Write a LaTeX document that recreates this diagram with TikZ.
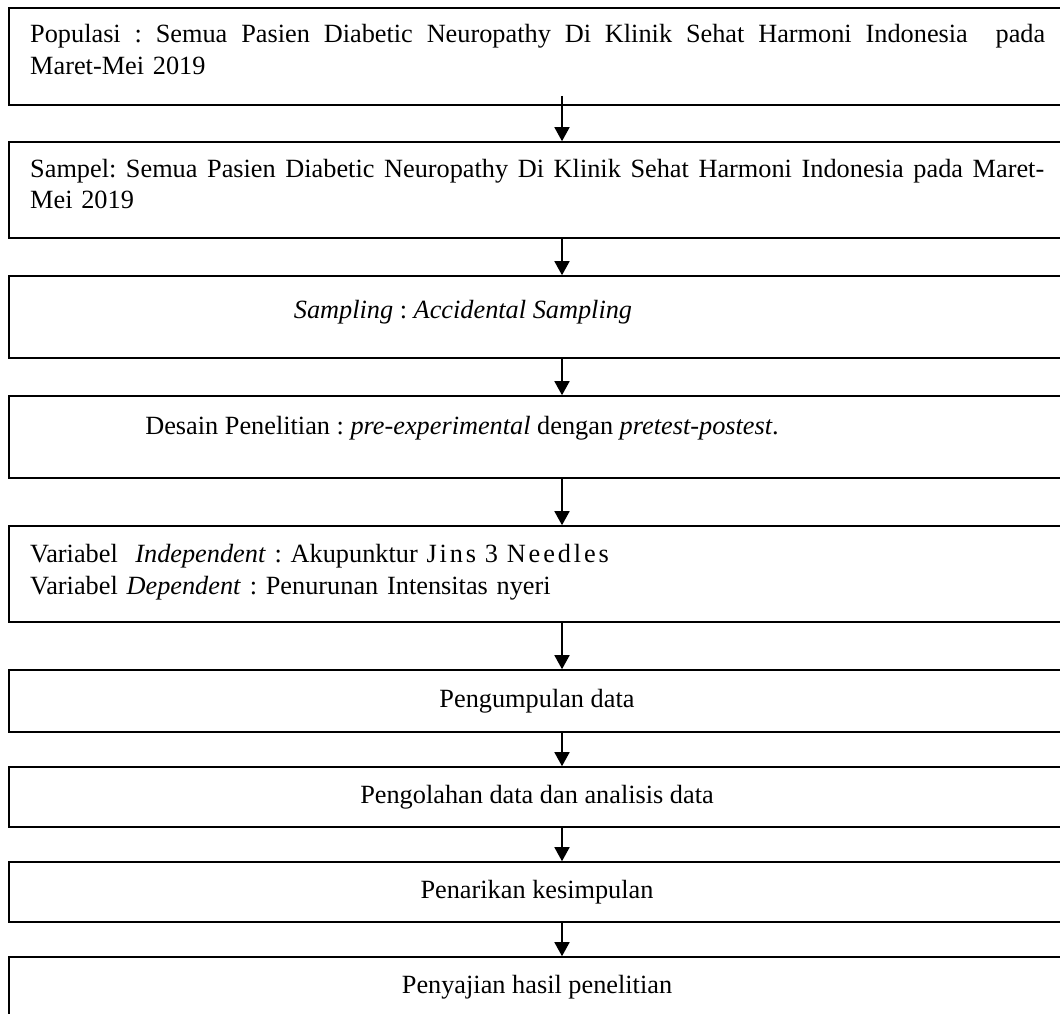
\documentclass[tikz,border=0pt]{standalone}
\usepackage{fontspec}
\setmainfont{Liberation Serif}
\usetikzlibrary{arrows.meta}
\newcommand\spreadline[2]{\makebox[#1][s]{\spaceskip=.25em plus 1fil\relax #2}}
\tikzset{
  box/.style={draw, line width=1.6pt, minimum width=1106pt, inner sep=0pt},
  txt/.style={inner sep=0pt, font=\fontsize{26.3}{32}\selectfont\frenchspacing},
  arr/.style={line width=1.6pt, -{Triangle[width=15pt,length=14pt]}}
}
\begin{document}
\begin{tikzpicture}[x=1pt,y=-1pt]
  \useasboundingbox (0,0) rectangle (1060,1014);
  \clip (0,0) rectangle (1060,1014);
  % boxes: number/top/bottom
  \foreach \n/\t/\b in {1/8/105, 2/142/238, 3/276/358, 4/396/478, 5/526/622,
                        6/670/732, 7/767/827, 8/862/922, 9/957/1040}
    \node[box, minimum height=\b-\t] (b\n) at (562,{(\t+\b)/2}) {};
  % texts
  \node[txt, anchor=base west, text width=1015pt, align=left] (t1) at (30,43)
    {\spreadline{1015pt}{Populasi : Semua Pasien Diabetic Neuropathy Di Klinik Sehat Harmoni Indonesia \ pada}\\Maret-Mei 2019};
  \node[txt, anchor=base west, text width=1015pt, align=left] (t2) at (30,177)
    {\spreadline{1014pt}{Sampel: Semua Pasien Diabetic Neuropathy Di Klinik Sehat Harmoni Indonesia pada Maret-}\\Mei 2019};
  \node[txt, anchor=base] (t3) at (463,318) {\textit{Sampling} : \textit{Accidental Sampling}};
  \node[txt, anchor=base] (t4) at (462,434) {Desain Penelitian : \textit{pre-experimental} dengan \textit{pretest-postest}.};
  \node[txt, anchor=base west, text width=1000pt, align=left] (t5) at (30,562)
    {Variabel \ \textit{Independent} : Akupunktur {\addfontfeature{LetterSpace=11}Jins 3 Needles}\\
     Variabel \textit{Dependent} : Penurunan Intensitas nyeri};
  \foreach \n/\y/\t in {6/707/Pengumpulan data, 7/803/Pengolahan data dan analisis data,
                        8/898/Penarikan kesimpulan, 9/993/Penyajian hasil penelitian}
    \node[txt, anchor=base] (t\n) at (537,\y) {\t};
  % arrows
  \draw[arr] ([yshift=10pt]b1.south) -- (b2);
  \foreach \i/\j in {2/3, 3/4, 4/5, 5/6, 6/7, 7/8, 8/9}
    \draw[arr] (b\i) -- (b\j);
\end{tikzpicture}
\end{document}
